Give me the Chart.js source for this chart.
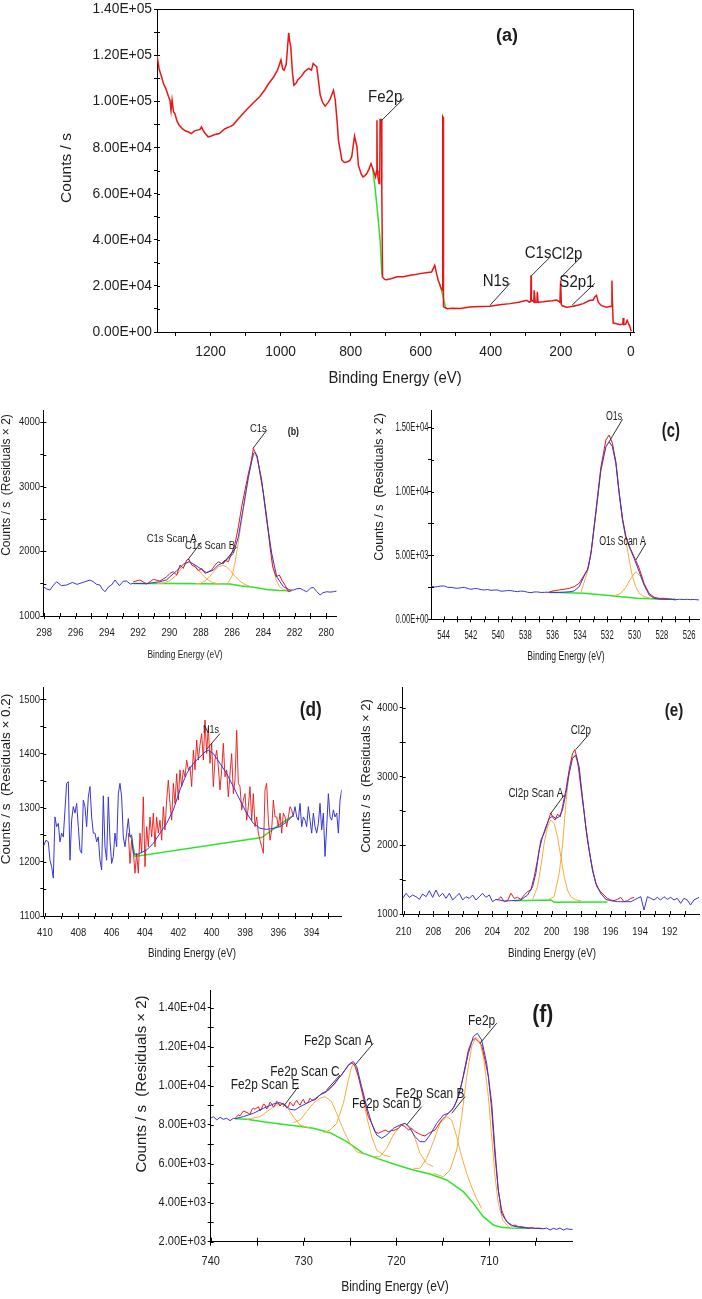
<!DOCTYPE html>
<html><head><meta charset="utf-8">
<script src="https://cdn.jsdelivr.net/npm/chart.js@4.4.0/dist/chart.umd.min.js"></script>
<style>
html,body{margin:0;padding:0;background:#fff;}
body{width:702px;height:1299px;position:relative;overflow:hidden;}
canvas{position:absolute;}
</style></head><body>
<canvas id="ca"></canvas><canvas id="cb"></canvas><canvas id="cc"></canvas>
<canvas id="cd"></canvas><canvas id="ce"></canvas><canvas id="cf"></canvas>
<script>
// ---------------- DATA ----------------
// (a) survey
const aEnergy=[1353,1347,1340,1334,1328,1320,1316,1313,1310,1306,1302,1296,1290,1280,1270,1264,1255,1246,1238,1230,1226,1220,1212,1207,1200,1190,1175,1160,1145,1136,1120,1098,1080,1060,1045,1034,1020,1009,999,994,990,984,977,974,971,966,962,956,951,940,932,920,912,907,901,897,892,887,880,873,864,858,849,844,838,835,825,818,811,803,797,789,782,778,770,765,759,754,748,742,737,729,726,725,724,722,719,717,716,712,711,709,703,697,680,668,650,630,615,602,585,569,560,555,550,543,538,537,536,535,533,524,510,488,460,430,402,375,345,320,297,290,286,285,284,282,277,276,273,272,268,267,265,264,250,240,225,212,205,202.5,200.5,199.5,198.5,196,183,165,150,136,117,108,103,98,93,84,69,58,55,54,53,50.5,40,31,23,22,20,15,10.5,7,5,2,-1];
const aCounts=[120000,114000,110600,107500,105600,102000,100500,96000,100500,95500,94700,91500,89700,88000,87000,86800,86000,87200,87500,87800,88900,87000,85500,84600,84800,85500,86000,88000,89000,89700,92500,96200,99000,102000,105000,107700,110500,113500,117900,114000,113500,116000,129700,126000,123600,112000,107000,107800,109200,111000,112800,114200,113500,116400,115500,115000,109100,102700,99500,97900,99500,101200,104800,100500,90000,83200,74500,73500,73700,74200,75900,84900,80300,72300,68500,67200,67800,68700,70500,73000,70900,67200,70000,91800,70000,67200,64400,66000,92100,92100,60000,23900,22800,22700,23300,23900,24000,24600,24900,25300,25700,26000,28900,25500,22400,19500,18000,93300,93000,11000,10800,10100,10300,10150,10800,11000,11150,11800,12300,12900,13750,12900,13200,24600,13500,13750,13000,18100,13000,12900,13000,17400,13000,12900,13100,13300,13500,13900,13200,12900,22300,22300,12000,11400,10700,11200,11700,12300,13750,13800,15200,15900,12900,11400,10700,11150,11000,22300,15000,3900,3600,3200,3500,6100,3200,3300,5000,3800,3200,2000,300];
const aBgEnergy=[737,730,723,716,711,709,600,545,538,534,528,450,405,398,350,295,288,240,196,186,175,166,160];
const aBgCounts=[70900,62000,51400,39800,25300,23900,null,20200,16500,13700,10100,null,11100,11200,null,13500,12900,null,11400,10800,null,11100,11200];

// (b) C1s
const bEnvEnergy=[298.06,297.85,297.64,297.4,297.21,296.9,296.57,296.2,295.9,295.72,295.4,295.08,294.87,294.65,294.44,294.3,294.12,293.9,293.7,293.48,293.2,292.95,292.74,292.5,292.31,291.5,290.61,290.18,289.97,289.54,289.12,288.75,288.37,287.94,287.63,287.2,286.88,286.56,286.13,285.92,285.6,285.28,284.96,284.64,284.54,284.43,284.11,283.79,283.47,283.15,282.73,282.3,282.09,281.9,281.66,281.45,281.23,281.0,280.81,280.6,280.38,280.2,279.96,279.75,279.53,279.32];
const bEnvCounts=[1454,1420,1402,1480,1530,1470,1480,1520,1490,1505,1530,1557,1531,1490,1479,1420,1376,1450,1480,1557,1470,1540,1541,1495,1505,1500,1531,1560,1608,1700,1800,1840,1790,1720,1670,1711,1790,1825,1920,1969,2227,2691,3155,3516,3530,3490,3103,2485,1969,1608,1454,1402,1402,1420,1428,1400,1376,1430,1443,1380,1325,1360,1376,1370,1376,1387];
const bRawEnergy=[292.31,291.89,291.46,291.03,290.61,290.18,289.97,289.76,289.54,289.33,289.12,288.9,288.75,288.58,288.37,288.16,287.94,287.73,287.52,287.31,287.09,286.88,286.67,286.45,286.24,286.03,285.81,285.6,285.39,285.18,284.96,284.81,284.64,284.54,284.39,284.22,284.0,283.79,283.58,283.41,283.19,282.98,282.83,282.62,282.41,282.19];
const bRawCounts=[1531,1557,1495,1567,1541,1608,1660,1686,1634,1789,1737,1866,1876,1789,1763,1701,1737,1660,1686,1711,1789,1840,1814,1866,1840,1969,2124,2381,2691,2949,3206,3361,3593,3541,3464,3206,2897,2536,2072,1763,1608,1634,1557,1479,1376,1392];
const bBgEnergy=[292.31,290.0,288.0,286.13,285.49,284.5,283.79,283.0,282.3];
const bBgCounts=[1505,1503,1500,1495,1469,1440,1412,1395,1392];
const bScanAEnergy=[290.8,290.4,290.0,289.6,289.3,289.0,288.75,288.5,288.2,287.9,287.6,287.3,287.0,286.7];
const bScanACounts=[1502,1510,1545,1620,1720,1800,1840,1810,1730,1640,1570,1525,1505,1498];
const bScanBEnergy=[288.3,288.0,287.7,287.4,287.1,286.85,286.6,286.35,286.1,285.8,285.5,285.2,284.9];
const bScanBCounts=[1500,1510,1545,1620,1710,1765,1784,1760,1700,1610,1540,1490,1465];
const bC1sEnergy=[286.3,286.0,285.8,285.6,285.39,285.18,284.96,284.75,284.6,284.43,284.22,284.0,283.79,283.58,283.41,283.19,282.98,282.73,282.4];
const bC1sCounts=[1500,1620,1850,2150,2480,2800,3130,3420,3505,3470,3240,2880,2470,2100,1800,1560,1460,1410,1395];

// (c) O1s
const cEnvEnergy=[544.93,544.7,544.44,544.2,543.95,543.7,543.46,543.2,542.97,542.7,542.49,542.2,542.0,541.75,541.51,541.25,541.02,540.8,540.53,540.3,540.04,539.8,539.55,539.3,539.07,538.8,538.58,538.35,538.09,537.85,537.6,537.35,537.11,536.85,536.62,536.4,536.13,535.5,534.79,534.43,534.06,533.69,533.45,533.2,532.84,532.47,532.1,531.86,531.62,531.37,531.13,530.88,530.64,530.39,530.03,529.66,529.3,528.93,528.56,528.07,527.34,527.0,526.7,526.36,526.1,525.88,525.6,525.27];
const cEnvCounts=[2608,2530,2556,2600,2608,2500,2504,2450,2425,2480,2504,2400,2347,2400,2399,2320,2295,2330,2269,2290,2295,2200,2217,2250,2243,2190,2165,2210,2191,2120,2086,2140,2139,2100,2112,2120,2086,2100,2150,2217,2556,3400,3860,5164,8293,11684,13509,13900,13509,12205,9858,7772,6468,5685,4773,3729,2686,1904,1643,1565,1565,1540,1565,1550,1560,1540,1550,1513];
const cRawEnergy=[536.26,535.89,535.52,535.16,534.79,534.43,534.06,533.69,533.4,533.16,532.84,532.47,532.1,531.86,531.62,531.37,531.13,530.88,530.64,530.39,530.03,529.66,529.3,528.93,528.56,528.2,527.83,527.34,526.98];
const cRawCounts=[2139,2243,2295,2347,2425,2556,2817,3469,3990,5425,8424,11892,14031,14422,13770,12336,9989,7902,6520,5738,4903,4000,2817,2034,1721,1643,1643,1565,1513];
const cBgEnergy=[536.13,533.69,531.49,529.79,528.32,526.98];
const cBgCounts=[2112,2034,1826,1643,1591,1565];
const cO1sEnergy=[533.94,533.45,533.2,532.84,532.47,532.1,531.86,531.62,531.37,531.13,530.88,530.64,530.39,530.15,529.91,529.66,529.3,528.81];
const cO1sCounts=[2086,3729,5033,8163,11632,13509,13850,13562,12258,9911,7772,6207,4642,3338,2556,2034,1773,1643];
const cScanAEnergy=[531.49,531.01,530.64,530.27,529.91,529.54,529.17,528.81,528.32];
const cScanACounts=[1826,2034,2504,3208,3729,3338,2425,1826,1617];

// (d) N1s
const dEnvEnergy=[410.1,409.94,409.8,409.7,409.6,409.5,409.4,409.3,409.2,409.1,409.0,408.9,408.8,408.7,408.6,408.5,408.4,408.3,408.2,408.1,408.0,407.9,407.8,407.7,407.6,407.5,407.4,407.3,407.2,407.1,407.0,406.9,406.8,406.7,406.6,406.5,406.4,406.3,406.2,406.1,406.0,405.9,405.8,405.7,405.6,405.5,405.4,405.3,405.2,405.1,405.0,404.9,404.8,
404.7,404.5,404.3,403.9,403.5,403.1,402.7,402.3,401.9,401.5,401.1,400.7,400.4,400.2,399.9,399.5,399.1,398.7,398.3,397.9,397.5,397.1,396.7,396.3,395.9,395.5,395.1,
395.0,394.9,394.8,394.7,394.6,394.5,394.4,394.3,394.2,394.1,394.0,393.9,393.8,393.7,393.6,393.5,393.4,393.3,393.2,393.1,393.0,392.9,392.8,392.7,392.6,392.5,392.4,392.3,392.2];
const dEnvCounts=[1228,1240,1237,1203,1191,1170,1283,1265,1271,1237,1253,1246,1296,1345,1348,1203,1277,1302,1290,1308,1265,1222,1216,1314,1302,1265,1320,1339,1283,1253,1253,1237,1246,1203,1185,1322,1228,1203,1320,1240,1197,1210,1253,1228,1326,1345,1320,1246,1228,1253,1280,1246,1250,
1216,1213,1216,1222,1234,1253,1271,1296,1333,1363,1382,1394,1403,1406,1400,1382,1363,1339,1314,1290,1271,1262,1260,1262,1265,1274,1286,
1302,1283,1277,1308,1265,1283,1277,1265,1302,1277,1253,1290,1265,1253,1271,1308,1259,1290,1210,1265,1326,1283,1277,1296,1283,1290,1253,1314,1333];
const dRawEnergy=[405.0,404.9,404.8,404.7,404.6,404.5,404.4,404.3,404.2,404.1,404.0,403.9,403.8,403.7,403.6,403.5,403.4,403.3,403.2,403.1,403.0,402.9,402.8,402.7,402.6,402.5,402.4,402.3,402.2,402.1,402.0,401.9,401.8,401.7,401.6,401.5,401.4,401.3,401.2,401.1,401.0,400.9,400.8,400.7,400.6,400.5,400.4,400.3,400.2,400.1,400.0,399.9,399.8,399.7,399.6,399.5,399.4,399.3,399.2,399.1,399.0,398.9,398.8,398.7,398.6,398.5,398.4,398.3,398.2,398.1,398.0,397.9,397.8,397.7,397.6,397.5,397.4,397.3,397.2,397.1,397.0,396.9,396.8,396.7,396.6,396.5,396.4,396.3,396.2,396.1,396.0,395.9,395.8,395.7,395.6,395.5,395.4,395.3,395.2,395.1];
const dRawCounts=[1253,1197,1240,1219,1179,1216,1179,1253,1216,1320,1191,1265,1228,1283,1246,1290,1228,1283,1253,1277,1240,1302,1259,1314,1351,1308,1277,1345,1308,1363,1314,1370,1339,1370,1357,1388,1370,1376,1339,1406,1370,1425,1388,1416,1437,1388,1462,1400,1450,1382,1419,1339,1388,1406,1376,1333,1370,1419,1357,1370,1320,1363,1400,1326,1351,1443,1345,1339,1296,1314,1326,1277,1302,1339,1277,1326,1265,1283,1253,1240,1228,1216,1333,1345,1277,1240,1259,1314,1283,1283,1265,1290,1253,1290,1283,1265,1283,1302,1296,1283];
const dBgEnergy=[405.0,404.8,404.6,397.0,396.1,395.1];
const dBgCounts=[1253,1243,1210,1245,1265,1286];

// (e) Cl2p
const eEnvEnergy=[210.07,209.84,209.62,209.39,209.17,208.94,208.72,208.49,208.27,208.04,207.82,207.59,207.36,207.14,206.91,206.69,206.46,206.24,206.01,205.79,205.56,205.34,205.11,204.89,204.66,204.44,204.21,203.99,203.76,203.54,203.2,202.75,202.07,201.62,201.28,201.06,200.83,200.61,200.38,200.16,199.93,199.71,199.48,199.26,199.03,198.81,198.58,198.36,198.13,197.91,197.68,197.45,197.23,197.0,196.67,196.33,195.99,195.54,194.64,194.41,194.19,193.96,193.74,193.51,193.29,193.06,192.84,192.61,192.39,192.16,191.94,191.71,191.49,191.26,191.04,190.81,190.59,190.36,190.02];
const eEnvCounts=[1228,1301,1242,1276,1252,1213,1291,1252,1339,1242,1349,1252,1301,1228,1301,1204,1252,1301,1204,1252,1228,1276,1204,1252,1301,1242,1276,1179,1213,1204,1190,1194,1204,1276,1397,1591,1931,2125,2270,2391,2425,2391,2415,2512,2755,3045,3264,3312,3142,2706,2270,1931,1640,1446,1301,1213,1194,1179,1179,1204,1228,1252,1058,1252,1228,1204,1242,1204,1252,1213,1242,1204,1228,1155,1228,1204,1131,1204,1242];
const eRawEnergy=[203.65,203.42,203.2,202.97,202.75,202.52,202.3,202.07,201.85,201.62,201.4,201.17,200.95,200.72,200.5,200.27,200.05,199.93,199.77,199.59,199.41,199.26,199.03,198.81,198.58,198.42,198.24,198.02,197.79,197.57,197.34,197.16,196.94,196.67,196.44,196.22,195.99,195.77,195.54,195.32,195.09,194.86,194.64,194.41];
const eRawCounts=[1204,1252,1179,1194,1301,1228,1242,1213,1276,1325,1349,1543,1785,2076,2173,2318,2473,2415,2367,2454,2415,2561,2803,3094,3336,3394,3239,2852,2464,2076,1785,1591,1397,1325,1276,1228,1204,1194,1213,1242,1179,1194,1228,1242];
const eBgEnergy=[202.52,200.05,199.82,196.22];
const eBgCounts=[1194,1204,1170,1174];
const eScanAEnergy=[201.28,200.95,200.72,200.5,200.27,200.05,199.82,199.59,199.37,199.14,198.92,198.69,198.36,198.02];
const eScanACounts=[1213,1397,1688,2028,2270,2367,2318,2125,1834,1543,1349,1252,1204,1194];
const eCl2pEnergy=[200.27,199.82,199.48,199.26,199.03,198.81,198.58,198.4,198.13,197.91,197.68,197.45,197.23,197.0,196.67,196.22];
const eCl2pCounts=[1204,1252,1591,1979,2609,3045,3288,3312,3118,2706,2270,1931,1640,1446,1301,1194];

// (f) Fe2p
const fEnvEnergy=[740,739.71,739.35,739.0,738.64,738.28,737.92,737.56,737.38,736.48,735.41,734.33,733.25,732.54,732.0,731.46,730.92,730.38,729.67,728.95,728.23,727.51,726.8,726.08,725.54,725.0,724.64,724.28,723.75,723.21,722.67,722.13,721.59,721.05,720.34,719.62,719.08,718.54,718.0,717.47,716.93,716.39,715.67,714.95,714.42,713.88,713.34,712.8,712.26,711.73,711.3,710.83,710.29,709.75,709.39,709.04,708.68,708.14,707.42,706.7,705.27,704.19,703.83,703.47,703.12,702.76,702.4,702.04,701.68,701.33,701.03];
const fEnvCounts=[8323,8409,8238,8375,8272,8323,8204,8323,8306,8409,8580,8836,9058,9127,9007,8785,8751,8921,9092,9263,9520,9690,10032,10460,10802,11143,11229,10973,9947,8921,8067,7469,7298,7469,7811,7981,8067,7811,7383,7127,7127,7469,8067,8494,8580,8836,9434,10460,11656,12510,12681,12339,11143,9092,6700,4649,3453,3025,2803,2735,2684,2667,2701,2598,2684,2632,2701,2598,2667,2632,2632];
const fRawEnergy=[737.38,737.02,736.84,736.66,736.48,736.3,735.95,735.77,735.59,735.41,735.23,734.87,734.69,734.51,734.33,734.15,733.97,733.79,733.61,733.43,733.25,733.07,732.9,732.72,732.54,732.36,732.18,732.0,731.82,731.64,731.46,731.28,731.1,730.92,730.74,730.56,730.38,730.2,730.02,729.85,729.67,729.49,729.31,729.13,728.77,728.41,728.05,727.69,727.33,726.98,726.62,726.26,725.9,725.54,725.18,724.82,724.64,724.46,724.1,723.75,723.39,723.03,722.67,722.31,721.95,721.59,721.23,720.88,720.52,720.16,719.8,719.44,719.08,718.72,718.36,718.0,717.65,717.29,716.93,716.57,716.21,715.85,715.49,715.13,714.78,714.42,714.06,713.7,713.34,712.98,712.62,712.26,711.91,711.55,711.19,710.83,710.47,710.11,709.75,709.39,709.04,708.68,708.32,707.96,707.6,707.24,706.88,706.52,706.16,705.81,705.45,705.09,704.73,704.19];
const fRawCounts=[8323,8494,8450,8580,8700,8665,8580,8520,8751,8850,8785,8921,8700,8836,9050,9007,8800,8921,9150,9058,8900,9007,9200,9127,8950,9058,9100,9007,8850,8921,9150,9058,8950,9127,9250,9092,9000,9178,9300,9092,9100,9178,9350,9263,9263,9434,9605,9690,9776,9947,10118,10374,10545,10802,11058,11143,11109,10973,10460,9776,9092,8409,8067,7640,7554,7640,7725,7640,7691,7725,7811,7981,7896,7725,7811,7640,7554,7469,7418,7554,7640,7725,7981,8238,8409,8580,8751,9007,9434,10118,10973,11827,12254,12425,12254,12083,11314,10460,8751,6358,4649,3624,3196,2940,2803,2855,2769,2769,2735,2684,2735,2684,2701,2667];
const fBgEnergy=[737.38,736.12,734.33,732.54,730.74,728.95,727.15,725.36,723.57,721.77,719.98,718.18,716.39,714.6,712.8,711.73,710.65,709.57,708.68,707.78,705.63];
const fBgCounts=[8306,8272,8152,8033,7930,7811,7588,7127,6529,6221,5931,5674,5469,5162,4564,3965,3282,2855,2735,2701,2684];
const fScanEEnergy=[736.12,734.69,733.61,732.9,732.36,731.82,731.1,730.38,729.31];
const fScanECounts=[8272,8409,8785,9007,9058,8921,8409,7981,7811];
const fScanCEnergy=[731.1,730.38,729.67,728.95,728.23,727.69,726.98,726.44,725.72,725.0,724.28,723.57];
const fScanCCounts=[8101,8238,8665,9092,9349,9434,9178,8580,7725,7042,6614,6495];
const fScanAEnergy=[727.87,727.15,726.44,725.72,725.18,724.82,724.57,724.28,723.75,723.21,722.67,722.13,721.41,720.7];
const fScanACounts=[7588,7725,8067,9092,10289,10973,11143,10887,9776,8409,7383,6700,6443,6358];
const fScanDEnergy=[722.49,721.77,721.05,720.34,719.62,719.08,718.54,718.0,717.47,716.75,716.03];
const fScanDCounts=[6358,6358,6785,7469,7930,8067,7896,7298,6529,6016,5845];
const fScanBEnergy=[718.18,717.47,716.75,716.03,715.31,714.6,714.06,713.52,712.98,712.44,711.91,711.37,710.83];
const fScanBCounts=[5760,5760,6273,7127,8067,8409,8238,7383,6358,5503,4800,4200,3700];
const fFe2pEnergy=[716.03,714.95,714.24,713.52,712.98,712.44,711.91,711.45,711.01,710.58,710.11,709.75,709.39,709.04,708.57,707.96];
const fFe2pCounts=[5503,5332,5674,6700,8409,10460,11998,12476,12254,11314,9434,7383,5333,3965,3111,2769];

// tick values
const aXTicks=[0,100,200,300,400,500,600,700,800,900,1000,1100,1200,1300];
const aXLabels=[0,200,400,600,800,1000,1200];
const aYTicks=[0,10000,20000,30000,40000,50000,60000,70000,80000,90000,100000,110000,120000,130000,140000];
const aYLabels=[0,20000,40000,60000,80000,100000,120000,140000];
const bXTicks=[280,281,282,283,284,285,286,287,288,289,290,291,292,293,294,295,296,297,298];
const bXLabels=[280,282,284,286,288,290,292,294,296,298];
const bYTicks=[1000,1500,2000,2500,3000,3500,4000];
const bYLabels=[1000,2000,3000,4000];
const cXTicks=[526,527,528,529,530,531,532,533,534,535,536,537,538,539,540,541,542,543,544];
const cXLabels=[526,528,530,532,534,536,538,540,542,544];
const cYTicks=[0,2500,5000,7500,10000,12500,15000];
const cYLabels=[0,5000,10000,15000];
const dXTicks=[393,394,395,396,397,398,399,400,401,402,403,404,405,406,407,408,409,410];
const dXLabels=[394,396,398,400,402,404,406,408,410];
const dYTicks=[1100,1150,1200,1250,1300,1350,1400,1450,1500];
const dYLabels=[1100,1200,1300,1400,1500];
const eXTicks=[191,192,193,194,195,196,197,198,199,200,201,202,203,204,205,206,207,208,209,210];
const eXLabels=[192,194,196,198,200,202,204,206,208,210];
const eYTicks=[1000,1500,2000,2500,3000,3500,4000];
const eYLabels=[1000,2000,3000,4000];
const fXTicks=[705,710,715,720,725,730,735,740];
const fXLabels=[710,720,730,740];
const fYTicks=[2000,3000,4000,5000,6000,7000,8000,9000,10000,11000,12000,13000,14000];
const fYLabels=[2000,4000,6000,8000,10000,12000,14000];

// ---------------- RENDER ----------------
const REG="'Liberation Sans',Arial,sans-serif";
const RED='rgb(232,22,22)', BLUE='rgb(55,55,215)', GREEN='rgb(45,228,45)', ORANGE='rgb(246,172,62)';
const INK='#1c1c1c';
const X_TITLE='Binding Energy (eV)';
function pts(xs,ys){const n=Math.min(xs.length,ys.length);const o=[];for(let i=0;i<n;i++)o.push({x:xs[i],y:ys[i]});return o;}
function sci(v){if(v===0)return '0.00E+00';const e=Math.floor(Math.log10(Math.abs(v))+1e-9);const m=v/Math.pow(10,e);return m.toFixed(2)+'E'+(e<0?'-':'+')+String(Math.abs(e)).padStart(2,'0');}
const plain=v=>String(v);

// text drawn with horizontal condensing (sx) to mimic the narrow face of the original
function txt(ctx,s,x,y,size,sx,align,bold,rot){
  ctx.save();ctx.translate(x,y);
  if(rot){ctx.rotate(-Math.PI/2);ctx.scale(1,sx);}else{ctx.scale(sx,1);}
  ctx.font=(bold?'bold ':'')+size+'px '+REG;ctx.textAlign=align;ctx.textBaseline='middle';ctx.fillStyle=INK;
  ctx.fillText(s,0,0);ctx.restore();
}

function annotPlugin(p){
  return {id:'annot',afterDraw(chart){
    const ctx=chart.ctx, X=chart.scales.x, Y=chart.scales.y, a=chart.chartArea, ox=p.canvas.x, oy=p.canvas.y, T=p.type;
    ctx.save();
    ctx.strokeStyle='#000';ctx.lineWidth=1;
    if(p.box){ctx.beginPath();ctx.moveTo(a.left,Math.round(a.top)+0.5);ctx.lineTo(Math.round(a.right)-0.5,Math.round(a.top)+0.5);ctx.lineTo(Math.round(a.right)-0.5,a.bottom);ctx.stroke();}
    // inner halves of the crossing tick marks
    ctx.beginPath();
    p.xt.forEach(v=>{const x=Math.round(X.getPixelForValue(v))+0.5;ctx.moveTo(x,a.bottom);ctx.lineTo(x,a.bottom-p.inX);});
    p.yt.forEach(v=>{const y=Math.round(Y.getPixelForValue(v))+0.5;ctx.moveTo(a.left,y);ctx.lineTo(a.left+p.inY,y);});
    ctx.stroke();
    // leader lines
    ctx.strokeStyle='#333';
    (p.lines||[]).forEach(l=>{ctx.beginPath();ctx.moveTo(X.getPixelForValue(l[0]),Y.getPixelForValue(l[1]));ctx.lineTo(X.getPixelForValue(l[2]),Y.getPixelForValue(l[3]));ctx.stroke();});
    // tick labels
    p.xm.forEach(v=>txt(ctx,String(v),X.getPixelForValue(v),p.xLabelY-oy,T.tick,T.tsx,'center'));
    p.ym.forEach(v=>txt(ctx,p.yfmt(v),p.yLabelR-ox,Y.getPixelForValue(v),T.tick,T.tsx,'right'));
    // axis titles
    txt(ctx,X_TITLE,p.xTitle[0]-ox,p.xTitle[1]-oy,T.xt,T.xsx,'center');
    txt(ctx,p.yTitle.text,p.yTitle.cx-ox,p.yTitle.cy-oy,p.yTitle.size,1,'center',false,true);
    // peak labels
    (p.texts||[]).forEach(t=>txt(ctx,t.text,X.getPixelForValue(t.x),Y.getPixelForValue(t.y),T.an,T.asx,'center'));
    const pl=p.panelLabel;
    txt(ctx,pl.text,X.getPixelForValue(pl.x),Y.getPixelForValue(pl.y),T.bold,T.bsx,'center',true);
    ctx.restore();
  }};
}

function makePanel(p){
  const cv=document.getElementById(p.id), c=p.canvas, pl=p.plot;
  cv.width=c.w;cv.height=c.h;
  Object.assign(cv.style,{left:c.x+'px',top:c.y+'px',width:c.w+'px',height:c.h+'px'});
  const yW=pl.l-c.x, xH=c.y+c.h-pl.b;
  const zero=s=>{s.paddingLeft=0;s.paddingRight=0;s.paddingTop=0;s.paddingBottom=0;};
  new Chart(cv,{
    type:'line',
    data:{datasets:p.sets.map(s=>({data:s.data,borderColor:s.color,borderWidth:s.w||1,order:s.order,pointRadius:0,fill:false,tension:0,spanGaps:false}))},
    options:{
      responsive:false,animation:false,devicePixelRatio:1,
      layout:{padding:{left:0,top:pl.t-c.y,right:c.x+c.w-pl.r,bottom:0}},
      plugins:{legend:{display:false},tooltip:{enabled:false}},
      scales:{
        x:{type:'linear',reverse:true,min:p.xr[0],max:p.xr[1],
          afterFit(s){s.height=xH;zero(s);},
          afterBuildTicks(s){s.ticks=p.xt.map(v=>({value:v}));},
          ticks:{display:false,autoSkip:false},
          grid:{drawOnChartArea:false,drawTicks:true,tickLength:p.outX,color:'#000',lineWidth:1},
          border:{display:true,color:'#000',width:1},title:{display:false}},
        y:{type:'linear',min:p.yr[0],max:p.yr[1],
          afterFit(s){s.width=yW;zero(s);},
          afterBuildTicks(s){s.ticks=p.yt.map(v=>({value:v}));},
          ticks:{display:false,autoSkip:false},
          grid:{drawOnChartArea:false,drawTicks:true,tickLength:p.outY,color:'#000',lineWidth:1},
          border:{display:true,color:'#000',width:1},title:{display:false}}
      }
    },
    plugins:[annotPlugin(p)]
  });
}
const YT2='Counts / s  (Residuals \u00d7 2)';

makePanel({id:'ca',canvas:{x:0,y:0,w:702,h:400},plot:{l:157,r:634,t:9,b:332},box:true,
  xr:[-9,1353],yr:[0,140000],xt:aXTicks,xm:aXLabels,yt:aYTicks,ym:aYLabels,yfmt:sci,
  outX:4,inX:0,outY:3,inY:3,xLabelY:352,yLabelR:152,xTitle:[395,379],
  type:{tick:15,tsx:0.92,xt:16,xsx:0.93,an:16,asx:0.94,bold:18,bsx:1},
  yTitle:{text:'Counts / s',cx:67,cy:168,size:15.5},
  sets:[{data:pts(aEnergy,aCounts),color:RED,w:1.5,order:0},{data:pts(aBgEnergy,aBgCounts),color:GREEN,w:1.5,order:1}],
  texts:[{text:'Fe2p',x:701.5,y:101400},{text:'N1s',x:385,y:21900},{text:'C1s',x:265,y:34100},{text:'Cl2p',x:182.5,y:33700},{text:'S2p1',x:154,y:21560}],
  panelLabel:{text:'(a)',x:353.6,y:128300},
  lines:[[648,101250,713,91500],[345,21100,402,11600],[231,32400,285,24200],[142.6,32400,199.6,23700],[102.7,21100,168,11600]]});

makePanel({id:'cb',canvas:{x:0,y:400,w:351,h:265},plot:{l:43.3,r:336.7,t:410,b:616},
  xr:[279.32,298.06],yr:[1000,4190],xt:bXTicks,xm:bXLabels,yt:bYTicks,ym:bYLabels,yfmt:plain,
  outX:3,inX:3,outY:3,inY:3,xLabelY:633,yLabelR:40,xTitle:[185,655],
  type:{tick:11,tsx:0.86,xt:10.5,xsx:0.8,an:11,asx:0.86,bold:11,bsx:0.8},
  yTitle:{text:YT2,cx:7,cy:485,size:12},
  sets:[{data:pts(bEnvEnergy,bEnvCounts),color:BLUE,order:0},{data:pts(bRawEnergy,bRawCounts),color:RED,order:1},
    {data:pts(bScanAEnergy,bScanACounts),color:ORANGE,order:2},{data:pts(bScanBEnergy,bScanBCounts),color:ORANGE,order:2},{data:pts(bC1sEnergy,bC1sCounts),color:ORANGE,order:2},
    {data:pts(bBgEnergy,bBgCounts),color:GREEN,w:1.5,order:3}],
  texts:[{text:'C1s',x:284.32,y:3902},{text:'C1s Scan A',x:289.86,y:2186},{text:'C1s Scan B',x:287.41,y:2088}],
  panelLabel:{text:'(b)',x:282.09,y:3850},
  lines:[[283.79,3876,284.68,3593],[287.99,2140,288.84,1866],[285.71,2072,286.6,1804]]});

makePanel({id:'cc',canvas:{x:351,y:400,w:351,h:265},plot:{l:431,r:699,t:410,b:619.3},
  xr:[525.27,544.93],yr:[0,16380],xt:cXTicks,xm:cXLabels,yt:cYTicks,ym:cYLabels,yfmt:sci,
  outX:3,inX:3,outY:3,inY:3,xLabelY:636,yLabelR:428.5,xTitle:[566,657],
  type:{tick:12,tsx:0.64,xt:12,xsx:0.72,an:12,asx:0.73,bold:20,bsx:0.74},
  yTitle:{text:YT2,cx:379.3,cy:487,size:12.5},
  sets:[{data:pts(cEnvEnergy,cEnvCounts),color:BLUE,order:0},{data:pts(cRawEnergy,cRawCounts),color:RED,order:1},
    {data:pts(cO1sEnergy,cO1sCounts),color:ORANGE,order:2},{data:pts(cScanAEnergy,cScanACounts),color:ORANGE,order:2},
    {data:pts(cBgEnergy,cBgCounts),color:GREEN,w:1.5,order:3}],
  texts:[{text:'O1s',x:531.5,y:15856},{text:'O1s Scan A',x:530.88,y:6075}],
  panelLabel:{text:'(c)',x:527.34,y:14680},
  lines:[[530.88,15650,531.86,13900],[529.17,5950,529.9,4640]]});

makePanel({id:'cd',canvas:{x:0,y:665,w:351,h:297},plot:{l:43.3,r:341.7,t:687,b:916},
  xr:[392.2,410.1],yr:[1100,1523],xt:dXTicks,xm:dXLabels,yt:dYTicks,ym:dYLabels,yfmt:plain,
  outX:3,inX:3,outY:3,inY:3,xLabelY:932.5,yLabelR:40,xTitle:[192,954],
  type:{tick:11.5,tsx:0.82,xt:12,xsx:0.82,an:11,asx:0.82,bold:20,bsx:0.86},
  yTitle:{text:'Counts / s  (Residuals \u00d7 0.2)',cx:6.7,cy:779,size:13.5},
  sets:[{data:pts(dEnvEnergy,dEnvCounts),color:BLUE,order:0},{data:pts(dRawEnergy,dRawCounts),color:'rgba(232,22,22,0.9)',order:1},
    {data:pts(dBgEnergy,dBgCounts),color:GREEN,w:1.5,order:3}],
  texts:[{text:'N1s',x:400.04,y:1443}],
  panelLabel:{text:'(d)',x:394.06,y:1480},
  lines:[[399.5,1437,400.3,1408]]});

makePanel({id:'ce',canvas:{x:351,y:665,w:351,h:297},plot:{l:402.7,r:699,t:687,b:914},
  xr:[190.02,210.07],yr:[1000,4305],xt:eXTicks,xm:eXLabels,yt:eYTicks,ym:eYLabels,yfmt:plain,
  outX:3,inX:3,outY:3,inY:3,xLabelY:931.5,yLabelR:398,xTitle:[552,954],
  type:{tick:11.5,tsx:0.82,xt:12,xsx:0.82,an:12,asx:0.82,bold:19,bsx:0.8},
  yTitle:{text:YT2,cx:366,cy:776,size:13},
  sets:[{data:pts(eEnvEnergy,eEnvCounts),color:BLUE,order:0},{data:pts(eRawEnergy,eRawCounts),color:RED,order:1},
    {data:pts(eScanAEnergy,eScanACounts),color:ORANGE,order:2},{data:pts(eCl2pEnergy,eCl2pCounts),color:ORANGE,order:2},
    {data:pts(eBgEnergy,eBgCounts),color:GREEN,w:1.5,order:3}],
  texts:[{text:'Cl2p',x:198.02,y:3676},{text:'Cl2p Scan A',x:201.06,y:2755}],
  panelLabel:{text:'(e)',x:191.71,y:3966},
  lines:[[197.46,3617,198.36,3395],[199.15,2730,200.05,2464]]});

makePanel({id:'cf',canvas:{x:0,y:962,w:702,h:337},plot:{l:210.7,r:572.7,t:990,b:1241.7},
  xr:[701.03,740],yr:[2000,14900],xt:fXTicks,xm:fXLabels,yt:fYTicks,ym:fYLabels,yfmt:sci,
  outX:4,inX:4,outY:3,inY:3,xLabelY:1261.5,yLabelR:206,xTitle:[395,1287],
  type:{tick:12.5,tsx:0.88,xt:14,xsx:0.86,an:14,asx:0.85,bold:24,bsx:0.88},
  yTitle:{text:YT2,cx:141.7,cy:1084,size:15},
  sets:[{data:pts(fEnvEnergy,fEnvCounts),color:BLUE,order:0},{data:pts(fRawEnergy,fRawCounts),color:RED,order:1},
    {data:pts(fScanEEnergy,fScanECounts),color:ORANGE,order:2},{data:pts(fScanCEnergy,fScanCCounts),color:ORANGE,order:2},
    {data:pts(fScanAEnergy,fScanACounts),color:ORANGE,order:2},{data:pts(fScanDEnergy,fScanDCounts),color:ORANGE,order:2},
    {data:pts(fScanBEnergy,fScanBCounts),color:ORANGE,order:2},{data:pts(fFe2pEnergy,fFe2pCounts),color:ORANGE,order:2},
    {data:pts(fBgEnergy,fBgCounts),color:GREEN,w:1.5,order:3}],
  texts:[{text:'Fe2p',x:710.83,y:13281},{text:'Fe2p Scan A',x:726.26,y:12255},{text:'Fe2p Scan C',x:729.85,y:10665},{text:'Fe2p Scan E',x:734.15,y:10034},{text:'Fe2p Scan B',x:716.39,y:9573},{text:'Fe2p Scan D',x:721.05,y:9060}],
  panelLabel:{text:'(f)',x:704.26,y:13624},
  lines:[[709.21,13198,711.0,12173],[722.49,12173,724.46,11060],[726.08,10547,727.51,9778],[730.57,9947,732.18,8922],[712.62,9436,714.05,8583],[717.29,8922,718.9,7983]]});
</script>
</body></html>
